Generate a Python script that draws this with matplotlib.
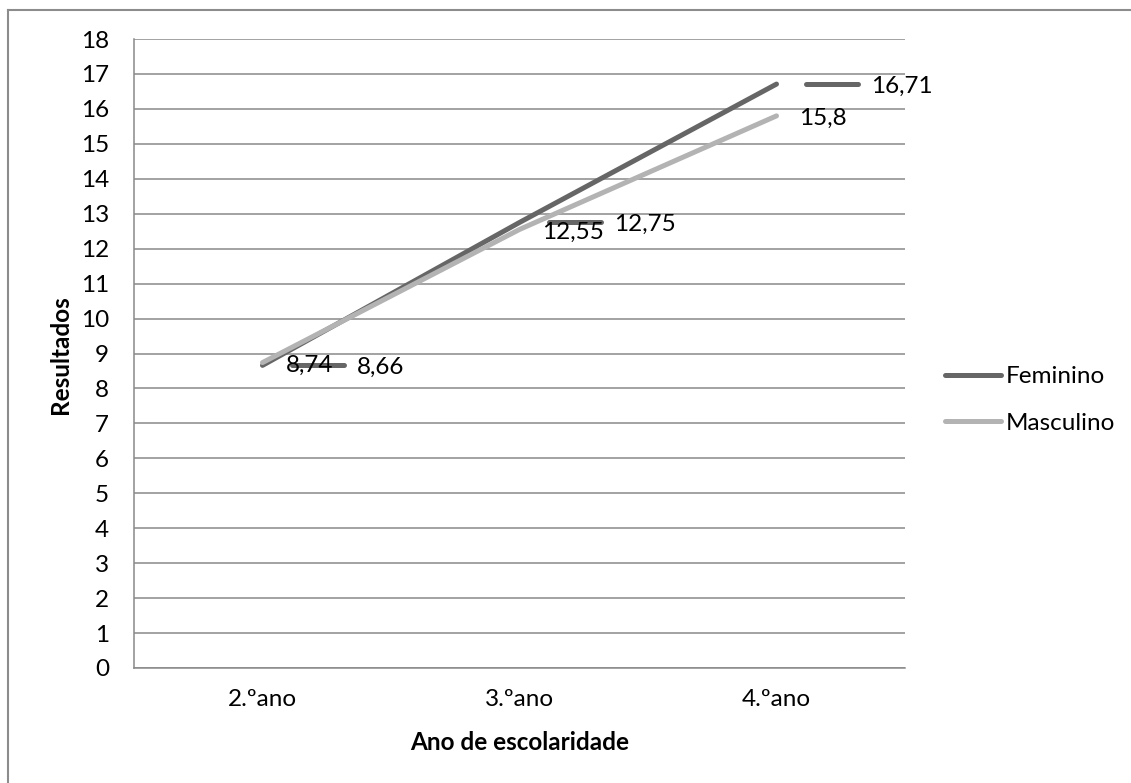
import matplotlib
matplotlib.use('Agg')
import matplotlib.pyplot as plt
from matplotlib.lines import Line2D
from matplotlib.markers import MarkerStyle
from matplotlib.transforms import offset_copy

# dados do gráfico
anos = ['2.ºano', '3.ºano', '4.ºano']
feminino = [8.66, 12.75, 16.71]
masculino = [8.74, 12.55, 15.8]
rotulos_fem = ['8,66', '12,75', '16,71']
rotulos_masc = ['8,74', '12,55', '15,8']

cor_fem = '#666666'
cor_masc = '#b3b3b3'
cor_grelha = '#898989'
fs = 17.5

plt.rcParams['font.family'] = ['Lato', 'DejaVu Sans']
fig = plt.figure(figsize=(11.31, 7.83), dpi=100)
ax = fig.add_axes([134 / 1131, 115 / 783, 771 / 1131, 629 / 783])

x = list(range(len(anos)))
ax.plot(x, feminino, color=cor_fem, lw=3.6, solid_capstyle='round', label='Feminino', zorder=3)
ax.plot(x, masculino, color=cor_masc, lw=3.6, solid_capstyle='round', label='Masculino', zorder=3)

# rótulos de dados (Feminino com a chave da legenda)
traco = MarkerStyle('_', capstyle='round')
for xi, v, t in zip(x, feminino, rotulos_fem):
    tr = offset_copy(ax.transData, fig=fig, x=40, y=0, units='points')
    ax.plot([xi], [v], marker=traco, markersize=37, markeredgewidth=3.6,
            color=cor_fem, transform=tr, zorder=4)
    ax.annotate(t, (xi, v), xytext=(68, -1.5), textcoords='offset points',
                ha='left', va='center', fontsize=fs, zorder=5)
for xi, v, t in zip(x, masculino, rotulos_masc):
    ax.annotate(t, (xi, v), xytext=(16.5, -1.8), textcoords='offset points',
                ha='left', va='center', fontsize=fs, zorder=5)

ax.set_xlim(-0.5, 2.5)
ax.set_ylim(0, 18)
ax.set_yticks(range(19))
ax.set_xticks(x)
ax.set_xticklabels(anos)
ax.tick_params(length=0, labelsize=fs)
ax.tick_params(axis='y', pad=18)
ax.tick_params(axis='x', pad=15)
ax.yaxis.grid(True, color=cor_grelha, lw=1.1)
ax.set_axisbelow(True)
for s in ['top', 'right']:
    ax.spines[s].set_visible(False)
for s in ['left', 'bottom']:
    ax.spines[s].set_color(cor_grelha)
    ax.spines[s].set_linewidth(1.1)

fig.text(60 / 1131, 1 - 355 / 783, 'Resultados', rotation=90, fontsize=fs,
         fontweight='bold', ha='center', va='center')
fig.text(520 / 1131, 1 - 743 / 783, 'Ano de escolaridade', fontsize=fs,
         fontweight='bold', ha='center', va='center')

fig.legend(loc='center left', bbox_to_anchor=(945 / 1131, 1 - 400 / 783),
           frameon=False, fontsize=fs, handlelength=2.3, handletextpad=0.2,
           labelspacing=1.05, borderpad=0, borderaxespad=0)

# moldura exterior
fig.add_artist(Line2D([8 / 1131, 1], [1 - 10 / 783] * 2, transform=fig.transFigure,
                      color='#8c8c8c', lw=1.5))
fig.add_artist(Line2D([8 / 1131] * 2, [0, 1 - 10 / 783], transform=fig.transFigure,
                      color='#8c8c8c', lw=1.5))

fig.savefig('out.png', dpi=100)
